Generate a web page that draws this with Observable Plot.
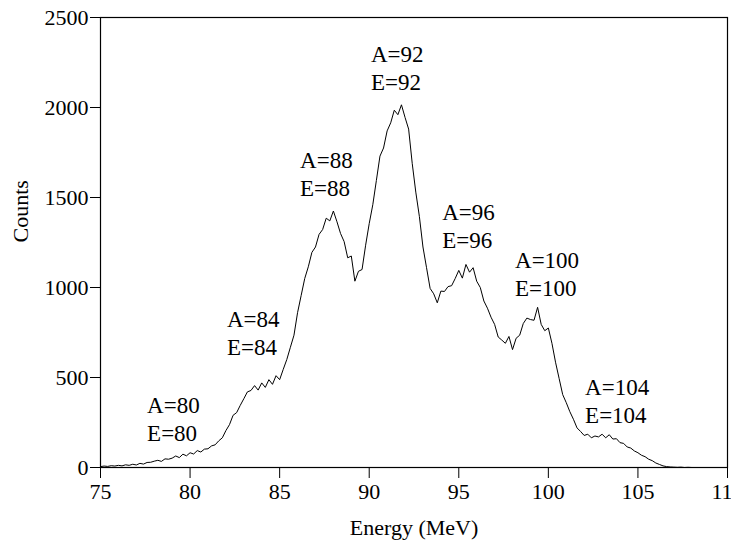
<!DOCTYPE html>
<html>
<head>
<meta charset="utf-8">
<script src="https://cdn.jsdelivr.net/npm/d3@7"></script>
<script src="https://cdn.jsdelivr.net/npm/@observablehq/plot@0.6"></script>
<style>
  html, body { margin: 0; padding: 0; background: #fff; }
  #chart svg { display: block; font-family: "Liberation Serif", "Times New Roman", serif !important; }
  #chart svg text, #chart svg g { font-family: "Liberation Serif", "Times New Roman", serif !important; }
</style>
</head>
<body>
<div id="chart"></div>
<script>
// Histogram bins: energy (MeV) start and width
const binStart = 75.0;
const binWidth = 0.2;
// Counts per bin (75.0 ... 108.0 MeV)
const counts = [
  5, 8, 6, 10, 8, 12, 9, 15, 12, 18,
  14, 23, 19, 28, 29, 35, 40, 34, 48, 46,
  52, 64, 55, 74, 65, 82, 75, 94, 86, 102,
  104, 120, 126, 148, 165, 205, 238, 290, 305, 345,
  382, 420, 428, 455, 430, 470, 445, 488, 462, 510,
  488, 545, 600, 668, 735, 860, 955, 1050, 1115, 1195,
  1225, 1295, 1322, 1385, 1370, 1425, 1365, 1300, 1255, 1165,
  1175, 1035, 1090, 1100, 1235, 1355, 1460, 1595, 1730, 1775,
  1870, 1915, 1985, 1960, 2015, 1945, 1880, 1690, 1530, 1395,
  1225, 1110, 995, 965, 915, 980, 978, 1005, 1010, 1050,
  1095, 1052, 1128, 1085, 1110, 1035, 1000, 925, 885, 835,
  795, 725, 708, 690, 728, 655, 718, 735, 800, 830,
  822, 818, 890, 795, 760, 775, 690, 585, 495, 405,
  360, 310, 268, 220, 200, 178, 185, 165, 175, 170,
  185, 165, 182, 158, 160, 138, 134, 114, 108, 92,
  82, 68, 60, 46, 38, 25, 17, 9, 5, 3,
  2, 1, 2, 0, 1, 0
];

// Tick values
const xTicks = [75, 80, 85, 90, 95, 100, 105, 110];
const yTicks = [0, 500, 1000, 1500, 2000, 2500];

// Peak annotations (data units)
const labelA = ["A=80", "A=84", "A=88", "A=92", "A=96", "A=100", "A=104"];
const labelE = ["E=80", "E=84", "E=88", "E=92", "E=96", "E=100", "E=104"];
const labelX = [77.6, 82.06, 86.14, 90.1, 94.07, 98.14, 102.05];
const labelYA = [344, 822, 1706, 2295, 1417, 1150, 444];
const labelYE = [189, 667, 1550, 2139, 1261, 994, 289];

const spectrum = counts.map((c, i) => ({energy: +(binStart + i * binWidth).toFixed(2), counts: c}));
const notes = labelA.map((a, i) => ({a, e: labelE[i], x: labelX[i], ya: labelYA[i], ye: labelYE[i]}));

const font = "Liberation Serif";

const chart = Plot.plot({
  width: 731,
  height: 542,
  marginLeft: 100,
  marginRight: 4,
  marginTop: 17,
  marginBottom: 75,
  style: {fontFamily: font, fontSize: "22px", background: "#fff", color: "#000", overflow: "visible"},
  x: {domain: [75, 110]},
  y: {domain: [0, 2500]},
  marks: [
    Plot.frame({stroke: "#000", strokeWidth: 1.2}),
    Plot.axisX({ticks: xTicks, tickSize: 11, tickPadding: 5, fontSize: 22, fontFamily: font, label: null, tickFormat: d => String(d)}),
    Plot.axisY({ticks: yTicks, tickSize: 10, tickPadding: 2, fontSize: 22, fontFamily: font, label: null, tickFormat: d => String(d)}),
    Plot.line(spectrum, {x: "energy", y: "counts", stroke: "#000", strokeWidth: 1}),
    Plot.text(notes, {x: "x", y: "ya", text: "a", textAnchor: "start", lineAnchor: "middle", fontSize: 23, fontFamily: font, fill: "#000"}),
    Plot.text(notes, {x: "x", y: "ye", text: "e", textAnchor: "start", lineAnchor: "middle", fontSize: 23, fontFamily: font, fill: "#000"}),
    Plot.text(["Energy (MeV)"], {frameAnchor: "bottom", dy: 60, lineAnchor: "middle", fontSize: 22, fontFamily: font, fill: "#000"}),
    Plot.text(["Counts"], {frameAnchor: "left", dx: -80, rotate: -90, lineAnchor: "middle", fontSize: 22, fontFamily: font, fill: "#000"})
  ]
});
document.getElementById("chart").appendChild(chart);
</script>
</body>
</html>
